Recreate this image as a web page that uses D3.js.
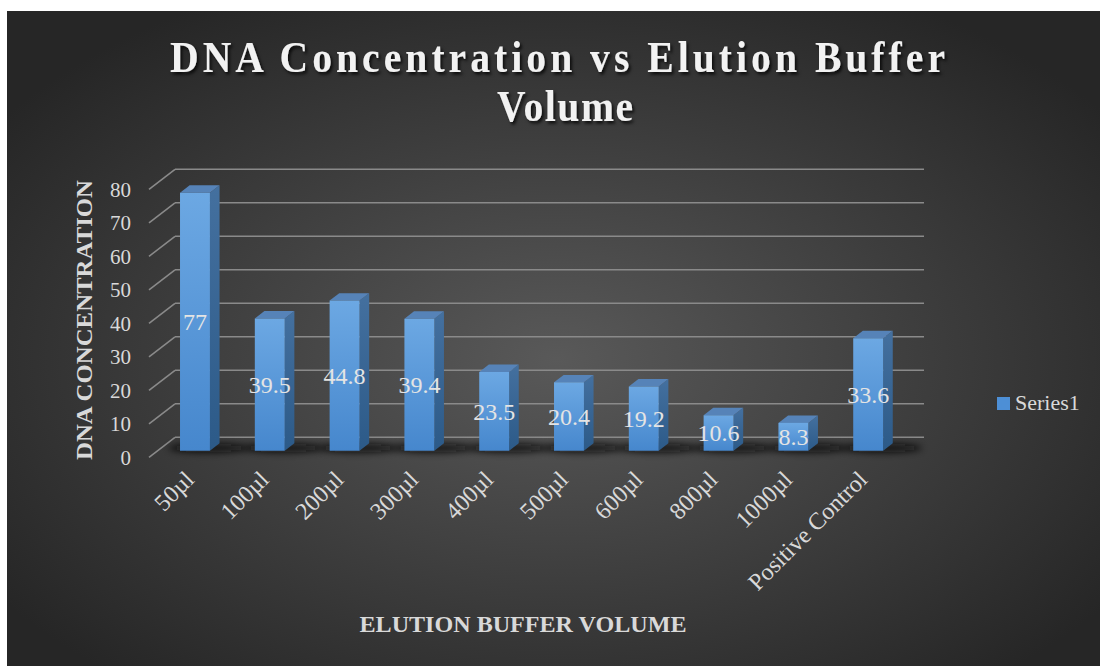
<!DOCTYPE html>
<html>
<head>
<meta charset="utf-8">
<script src="https://cdn.jsdelivr.net/npm/d3@7/dist/d3.min.js"></script>
<style>
  html, body { margin: 0; padding: 0; background: #ffffff; }
  svg { display: block; }
</style>
</head>
<body>
<svg id="chart" width="1100" height="666"></svg>
<script>
// ---- data ----
const categories = ["50µl", "100µl", "200µl", "300µl", "400µl", "500µl", "600µl", "800µl", "1000µl", "Positive Control"];
const values = [77, 39.5, 44.8, 39.4, 23.5, 20.4, 19.2, 10.6, 8.3, 33.6];
const yTicks = [0, 10, 20, 30, 40, 50, 60, 70, 80];
const seriesName = "Series1";
const titleLines = ["DNA Concentration vs Elution Buffer", "Volume"];
const xTitle = "ELUTION BUFFER VOLUME";
const yTitle = "DNA CONCENTRATION";

const FONT = "'Liberation Serif', 'Times New Roman', Times, serif";

// ---- layout ----
const svg = d3.select("#chart").attr("font-family", FONT);
const floorFrontY = 457.3;         // y of value 0 at the front edge of the floor
const depthDX = 26, depthDY = -20; // offset from front edge to back wall
const frontLeft = 149, frontRight = 897;
const barT0 = 0.33, barT1 = 0.70;  // bar depth range (fraction of floor depth)

const x = d3.scaleBand().domain(categories).range([frontLeft, frontRight])
  .paddingInner(0.6).paddingOuter(0.3);
const h = d3.scaleLinear().domain([0, 80]).range([0, 268]);

// project a (screen x at front, depth fraction, value) triple
function P(px, t, v) {
  return [px + t * depthDX, floorFrontY + t * depthDY - h(v)];
}

const defs = svg.append("defs");
const bg = defs.append("radialGradient").attr("id", "bg")
  .attr("cx", "50%").attr("cy", "52%").attr("r", "62%");
bg.append("stop").attr("offset", "0%").attr("stop-color", "#595959");
bg.append("stop").attr("offset", "100%").attr("stop-color", "#262626");

const gFront = defs.append("linearGradient").attr("id", "gFront").attr("x1", 0).attr("y1", 0).attr("x2", 0).attr("y2", 1);
gFront.append("stop").attr("offset", "0%").attr("stop-color", "#6ca8e3");
gFront.append("stop").attr("offset", "100%").attr("stop-color", "#4687cd");
const gSide = defs.append("linearGradient").attr("id", "gSide").attr("x1", 0).attr("y1", 0).attr("x2", 0).attr("y2", 1);
gSide.append("stop").attr("offset", "0%").attr("stop-color", "#44709f");
gSide.append("stop").attr("offset", "100%").attr("stop-color", "#2c5a88");

const shadowF = defs.append("filter").attr("id", "textShadow").attr("x", "-10%").attr("y", "-30%").attr("width", "120%").attr("height", "160%");
shadowF.append("feDropShadow").attr("dx", 2).attr("dy", 2.5).attr("stdDeviation", 1.6)
  .attr("flood-color", "#000").attr("flood-opacity", 0.75);
const blurF = defs.append("filter").attr("id", "blur").attr("x", "-50%").attr("y", "-200%").attr("width", "200%").attr("height", "500%");
blurF.append("feGaussianBlur").attr("stdDeviation", 3.5);

// chart area background
svg.append("rect").attr("x", 7).attr("y", 11).attr("width", 1100).attr("height", 670)
  .attr("fill", "url(#bg)");

// ---- gridlines: back wall + left wall ----
const grid = svg.append("g").attr("stroke", "#8a8a8a").attr("stroke-width", 1.6).attr("fill", "none");
yTicks.forEach(v => {
  const a = P(frontLeft, 0, v), b = P(frontLeft, 1, v);
  grid.append("line").attr("x1", a[0]).attr("y1", a[1]).attr("x2", b[0]).attr("y2", b[1]);
  const c = P(frontRight + 1, 1, v);
  grid.append("line").attr("x1", b[0]).attr("y1", b[1]).attr("x2", c[0]).attr("y2", c[1]);
});

// ---- y tick labels ----
svg.append("g").selectAll("text").data(yTicks).join("text")
  .attr("x", 131).attr("y", d => P(frontLeft, 0, d)[1])
  .attr("dy", "0.35em").attr("text-anchor", "end")
  .attr("font-family", FONT)
  .attr("font-size", 21).attr("fill", "#d9d9d9")
  .text(d => d);

// ---- bars ----
const bars = svg.append("g");
const rows = categories.map((c, i) => ({ c, v: values[i] }));

// floor shadows
bars.selectAll("ellipse.sh").data(rows).join("ellipse")
  .attr("class", "sh")
  .attr("cx", d => P(x(d.c) + x.bandwidth() / 2, barT1, 0)[0] + 4)
  .attr("cy", d => P(0, (barT0 + barT1) / 2, 0)[1] + 1)
  .attr("rx", 40).attr("ry", 4.5)
  .attr("fill", "#0a0a0a").attr("opacity", 0.85)
  .attr("filter", "url(#blur)");

const bg3 = bars.selectAll("g.bar").data(rows).join("g").attr("class", "bar");
const poly = pts => "M" + pts.map(p => p.join(",")).join("L") + "Z";
// right side face
bg3.append("path").attr("fill", "url(#gSide)").attr("d", d => {
  const xr = x(d.c) + x.bandwidth();
  return poly([P(xr, barT0, 0), P(xr, barT1, 0), P(xr, barT1, d.v), P(xr, barT0, d.v)]);
});
// top face
bg3.append("path").attr("fill", "#5683b8").attr("d", d => {
  const xl = x(d.c), xr = xl + x.bandwidth();
  return poly([P(xl, barT0, d.v), P(xr, barT0, d.v), P(xr, barT1, d.v), P(xl, barT1, d.v)]);
});
// front face
bg3.append("path").attr("fill", "url(#gFront)").attr("d", d => {
  const xl = x(d.c), xr = xl + x.bandwidth();
  return poly([P(xl, barT0, 0), P(xr, barT0, 0), P(xr, barT0, d.v), P(xl, barT0, d.v)]);
});

// ---- data labels ----
svg.append("g").selectAll("text").data(rows).join("text")
  .attr("x", d => P(x(d.c) + x.bandwidth() / 2, barT0, 0)[0])
  .attr("y", d => P(0, barT0, d.v / 2)[1])
  .attr("dy", "0.35em").attr("text-anchor", "middle")
  .attr("font-family", FONT)
  .attr("font-size", 24).attr("fill", "#e4e4e4")
  .text(d => d.v);

// ---- x category labels ----
svg.append("g").selectAll("text").data(categories).join("text")
  .attr("transform", d => `translate(${x(d) + x.bandwidth() / 2 + 9},${481}) rotate(-45)`)
  .attr("text-anchor", "end")
  .attr("font-family", FONT)
  .attr("font-size", 24).attr("fill", "#d9d9d9")
  .text(d => d);

// ---- axis titles ----
svg.append("text")
  .attr("x", 523).attr("y", 632).attr("text-anchor", "middle")
  .attr("font-family", FONT)
  .attr("font-size", 24).attr("font-weight", "bold").attr("fill", "#d9d9d9")
  .attr("textLength", 327).attr("lengthAdjust", "spacingAndGlyphs")
  .text(xTitle);

svg.append("text")
  .attr("transform", "translate(92,320) rotate(-90)")
  .attr("text-anchor", "middle")
  .attr("font-family", FONT)
  .attr("font-size", 24).attr("font-weight", "bold").attr("fill", "#d9d9d9")
  .attr("textLength", 280).attr("lengthAdjust", "spacingAndGlyphs")
  .text(yTitle);

// ---- chart title (condensed glyphs, wide tracking) ----
const tg = svg.append("g").attr("filter", "url(#textShadow)");
const titlePos = [{ cx: 557.5, y: 72, w: 775 }, { cx: 565, y: 121, w: 136 }];
titleLines.forEach((t, i) => {
  const p = titlePos[i];
  tg.append("g").attr("transform", `translate(${p.cx},${p.y}) scale(0.88,1)`)
    .append("text").attr("x", 0).attr("y", 0).attr("text-anchor", "middle")
    .attr("font-family", FONT)
    .attr("font-size", 45).attr("font-weight", "bold").attr("fill", "#f2f2f2")
    .attr("textLength", p.w / 0.88).attr("lengthAdjust", "spacing")
    .text(t);
});

// ---- legend ----
const lg = svg.append("g").attr("transform", "translate(997,397)");
lg.append("rect").attr("width", 13).attr("height", 13).attr("fill", "#4d8fd6");
lg.append("text").attr("x", 18).attr("y", 13)
  .attr("font-family", FONT)
  .attr("font-size", 22).attr("fill", "#d9d9d9").text(seriesName);
</script>
</body>
</html>
